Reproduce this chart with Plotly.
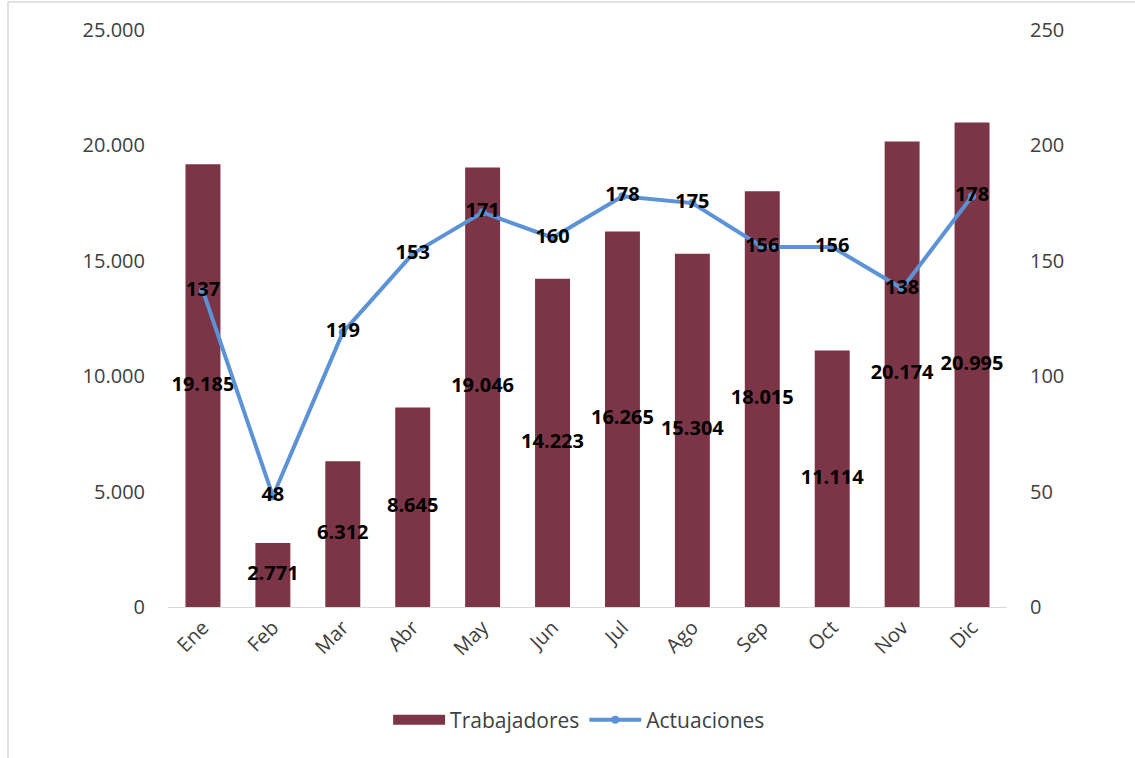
import plotly.graph_objects as go

meses = ["Ene", "Feb", "Mar", "Abr", "May", "Jun", "Jul", "Ago", "Sep", "Oct", "Nov", "Dic"]
trabajadores = [19185, 2771, 6312, 8645, 19046, 14223, 16265, 15304, 18015, 11114, 20174, 20995]
actuaciones = [137, 48, 119, 153, 171, 160, 178, 175, 156, 156, 138, 178]
left_ticks = [0, 5000, 10000, 15000, 20000, 25000]
right_ticks = [0, 50, 100, 150, 200, 250]

FONT = "Open Sans"
BAR = "#7B3547"
LINE = "#5B93D6"
FS = 20

fig = go.Figure()
fig.add_trace(go.Bar(
    x=meses, y=trabajadores, name="Trabajadores",
    marker=dict(color=BAR, line=dict(width=0)), width=0.5,
    showlegend=False,
))
# legend proxy: wide maroon swatch like the original
fig.add_trace(go.Scatter(
    x=[meses[0]], y=[None], name="Trabajadores", mode="lines",
    line=dict(color=BAR, width=14), hoverinfo="skip",
))
# bar value labels centred in each bar
fig.add_trace(go.Scatter(
    x=meses, y=[v / 2 for v in trabajadores], mode="text",
    text=trabajadores, texttemplate="%{text:,d}", textposition="middle center",
    textfont=dict(family=FONT, size=FS, color="#000000", weight="bold"),
    showlegend=False, hoverinfo="skip",
))
fig.add_trace(go.Scatter(
    x=meses, y=actuaciones, name="Actuaciones", yaxis="y2",
    mode="lines+markers+text",
    line=dict(color=LINE, width=4),
    marker=dict(color=LINE, size=8),
    text=actuaciones, textposition="middle center",
    textfont=dict(family=FONT, size=FS, color="#000000", weight="bold"),
))

fig.update_layout(
    width=1135, height=758,
    margin=dict(l=168, r=128, t=30, b=151),
    paper_bgcolor="white", plot_bgcolor="white",
    separators=",.",
    font=dict(family=FONT, size=FS, color="#404040"),
    xaxis=dict(
        range=[-0.5, len(meses) - 0.5],
        showgrid=False, showline=True, linecolor="#D9D9D9", linewidth=1,
        tickangle=-45, ticks="", tickfont=dict(size=FS, color="#404040"),
        automargin=False,
    ),
    yaxis=dict(
        range=[0, 25000], tickvals=left_ticks, tickformat=",d",
        showgrid=False, zeroline=False, showline=False, ticks="",
        ticklabelstandoff=22, tickfont=dict(size=FS, color="#404040"),
        automargin=False,
    ),
    yaxis2=dict(
        range=[0, 250], tickvals=right_ticks, overlaying="y", side="right",
        showgrid=False, zeroline=False, showline=False, ticks="",
        ticklabelstandoff=22, tickfont=dict(size=FS, color="#404040"),
        automargin=False,
    ),
    legend=dict(
        orientation="h", x=0.49, xanchor="center", y=-0.196, yanchor="middle",
        font=dict(size=21, color="#404040"), bgcolor="rgba(0,0,0,0)",
        traceorder="normal", itemwidth=52,
    ),
    bargap=0.5,
    shapes=[
        dict(type="line", xref="paper", yref="paper",
             x0=-0.1907, x1=1.1526, y0=1.0485, y1=1.0485,
             line=dict(color="#D9D9D9", width=1.5)),
        dict(type="line", xref="paper", yref="paper",
             x0=-0.1907, x1=-0.1907, y0=1.0485, y1=-0.2617,
             line=dict(color="#D9D9D9", width=1.5)),
    ],
)

fig.write_html(
    "out.html",
    config={"displayModeBar": False},
    post_script="document.body.style.margin='0';document.body.style.overflow='hidden';",
)
